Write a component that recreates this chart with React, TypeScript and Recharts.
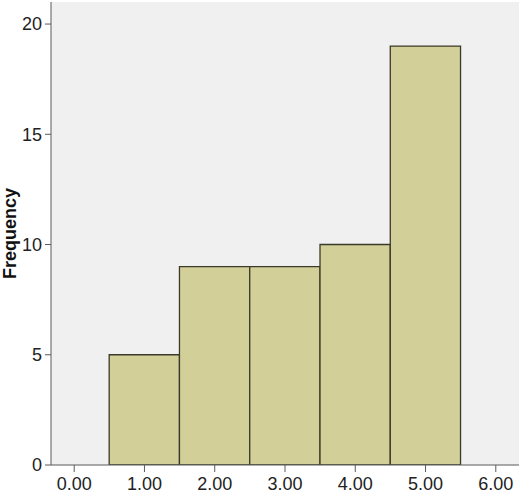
import { BarChart, Bar, XAxis, YAxis, CartesianGrid, Label, Rectangle } from 'recharts'

// bin centres and counts
const binCenters = [1, 2, 3, 4, 5]
const frequencies = [5, 9, 9, 10, 19]
const xTicks = [0, 1, 2, 3, 4, 5, 6]
const yTicks = [0, 5, 10, 15, 20]

const data = binCenters.map((x, i) => ({ x, count: frequencies[i] }))

const W = 520
const H = 498
const X_DOMAIN: [number, number] = [-0.33, 6.33]
const PLOT_LEFT = 51
const PLOT_RIGHT = 1
const binWidth = (W - PLOT_LEFT - PLOT_RIGHT) / (X_DOMAIN[1] - X_DOMAIN[0])

const font = 'Arial, "Liberation Sans", sans-serif'
const tickStyle = { fill: '#222', fontSize: 18, fontFamily: font }
const frame = '#5a5a5a'

// histogram bins touch each other: keep the centre from the scale, widen to one bin
const BinShape = (props: any) => {
  const cx = props.x + props.width / 2
  return <Rectangle {...props} x={cx - binWidth / 2} width={binWidth} />
}

export default function App() {
  return (
    <div style={{ position: 'absolute', left: 0, top: 0, width: W, height: H, background: '#fff' }}>
      <BarChart
        width={W}
        height={H}
        data={data}
        margin={{ top: 2, right: PLOT_RIGHT, bottom: 0, left: 0 }}
        barCategoryGap="0%"
        barGap={0}
      >
        <CartesianGrid fill="#f0f0f0" horizontal={false} vertical={false} />
        <XAxis
          dataKey="x"
          type="number"
          domain={X_DOMAIN}
          ticks={xTicks}
          allowDataOverflow
          tickFormatter={(v: number) => v.toFixed(2)}
          tick={tickStyle}
          tickSize={7}
          tickMargin={5}
          stroke={frame}
          height={33}
        />
        <XAxis
          xAxisId="top"
          orientation="top"
          dataKey="x"
          type="number"
          domain={X_DOMAIN}
          allowDataOverflow
          tick={false}
          tickLine={false}
          stroke={frame}
          height={0}
        />
        <YAxis
          type="number"
          domain={[0, 21]}
          ticks={yTicks}
          allowDataOverflow
          tick={tickStyle}
          tickSize={6}
          tickMargin={3}
          stroke={frame}
          width={PLOT_LEFT}
        >
          <Label
            value="Frequency"
            angle={-90}
            position="insideLeft"
            offset={10}
            style={{ fontFamily: font, fontSize: 18, fontWeight: 'bold', fill: '#111', textAnchor: 'middle' }}
          />
        </YAxis>
        <YAxis
          yAxisId="right"
          orientation="right"
          type="number"
          domain={[0, 21]}
          tick={false}
          tickLine={false}
          stroke={frame}
          width={0}
        />
        <Bar
          dataKey="count"
          fill="#d3cf98"
          stroke="#3a3a2a"
          strokeWidth={1.3}
          shape={BinShape}
          isAnimationActive={false}
        />
      </BarChart>
    </div>
  )
}
